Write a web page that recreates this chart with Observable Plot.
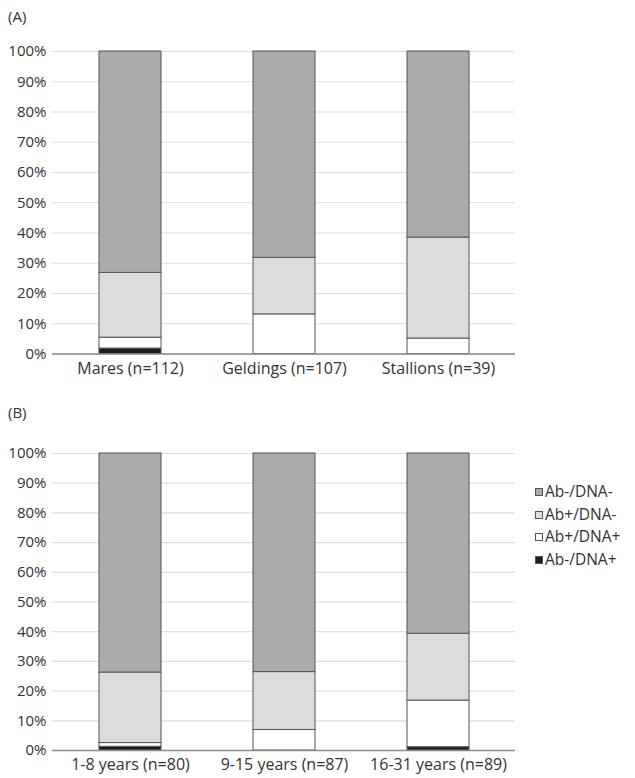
<!DOCTYPE html>
<html>
<head>
<meta charset="utf-8">
<script src="https://cdn.jsdelivr.net/npm/d3@7"></script>
<script src="https://cdn.jsdelivr.net/npm/@observablehq/plot@0.6"></script>
<style>
  body { margin: 0; background: #fff; font-family: "Open Sans", "Noto Sans", sans-serif; color: #333; }
  #wrap { position: relative; width: 635px; height: 778px; overflow: hidden; }
  .lab { position: absolute; font-size: 15px; color: #333; }
  .panel { position: absolute; left: 0; }
  #legend { position: absolute; left: 535px; top: 480px; font-size: 15.5px; line-height: 22.7px; color: #333; }
  #legend .sw { display: inline-block; width: 6px; height: 6px; border: 1px solid #555; margin-right: 2px; vertical-align: 1px; }
</style>
</head>
<body>
<div id="wrap">
  <div class="lab" style="left:8px; top:6px;">(A)</div>
  <div class="panel" id="pa" style="top:30px;"></div>
  <div class="lab" style="left:8px; top:402px;">(B)</div>
  <div class="panel" id="pb" style="top:420px;"></div>
  <div id="legend"></div>
</div>
<script>
// Series (bottom to top in each bar)
const series = ["Ab-/DNA+", "Ab+/DNA+", "Ab+/DNA-", "Ab-/DNA-"];
const seriesColors = ["#1c1c1c", "#ffffff", "#dcdcdd", "#ababab"];
const legendOrder = ["Ab-/DNA-", "Ab+/DNA-", "Ab+/DNA+", "Ab-/DNA+"];

// Panel A: sex
const categoriesA = ["Mares (n=112)", "Geldings (n=107)", "Stallions (n=39)"];
const abNegDnaPosA = [1.8, 0, 0];
const abPosDnaPosA = [3.6, 13.1, 5.1];
const abPosDnaNegA = [21.4, 18.7, 33.4];
const abNegDnaNegA = [73.2, 68.2, 61.5];

// Panel B: age
const categoriesB = ["1-8 years (n=80)", "9-15 years (n=87)", "16-31 years (n=89)"];
const abNegDnaPosB = [1.25, 0, 1.1];
const abPosDnaPosB = [1.25, 6.9, 15.7];
const abPosDnaNegB = [23.75, 19.5, 22.5];
const abNegDnaNegB = [73.75, 73.6, 60.7];

const yTicks = [0, 10, 20, 30, 40, 50, 60, 70, 80, 90, 100];

function buildRows(cats, cols) {
  const rows = [];
  cats.forEach((c, i) => {
    series.forEach((s, j) => rows.push({cat: c, series: s, value: cols[j][i]}));
  });
  return rows;
}

function panel(cats, cols, opts) {
  const rows = buildRows(cats, cols);
  return Plot.plot({
    width: 520,
    height: opts.height,
    marginLeft: 52,
    marginRight: 5,
    marginTop: opts.marginTop,
    marginBottom: opts.marginBottom,
    style: {fontFamily: '"Open Sans", "Noto Sans", sans-serif', fontSize: "15px", color: "#333", background: "transparent"},
    x: {domain: cats, paddingInner: 0.6, paddingOuter: 0.3, label: null},
    y: {domain: [0, 100], label: null},
    color: {domain: series, range: seriesColors},
    marks: [
      Plot.gridY(yTicks, {stroke: "#dedede", strokeOpacity: 1, strokeWidth: 1.2}),
      Plot.barY(rows, {x: "cat", y: "value", fill: "series", stroke: "#555", strokeWidth: 1, order: series}),
      Plot.ruleY([0], {stroke: "#8a8a8a", strokeWidth: 1.5}),
      Plot.axisY(yTicks, {tickSize: 0, tickPadding: 6, tickFormat: d => d + "%", fontSize: 15, fill: "#333"}),
      Plot.axisX({tickSize: 0, tickPadding: opts.xPad, fontSize: 16, fill: "#333"})
    ]
  });
}

document.getElementById("pa").appendChild(panel(categoriesA,
  [abNegDnaPosA, abPosDnaPosA, abPosDnaNegA, abNegDnaNegA],
  {height: 360, marginTop: 21, marginBottom: 36.5, xPad: 9}));

document.getElementById("pb").appendChild(panel(categoriesB,
  [abNegDnaPosB, abPosDnaPosB, abPosDnaNegB, abNegDnaNegB],
  {height: 358, marginTop: 33, marginBottom: 28, xPad: 8}));

const leg = document.getElementById("legend");
legendOrder.forEach(s => {
  const d = document.createElement("div");
  const sw = document.createElement("span");
  sw.className = "sw";
  sw.style.background = seriesColors[series.indexOf(s)];
  d.appendChild(sw);
  d.appendChild(document.createTextNode(s));
  leg.appendChild(d);
});
</script>
</body>
</html>
